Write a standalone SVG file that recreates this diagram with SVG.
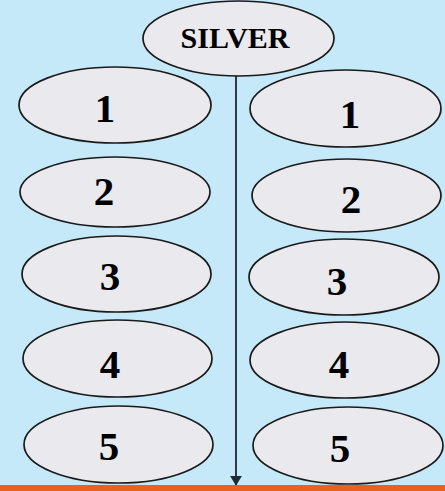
<svg xmlns="http://www.w3.org/2000/svg" width="445" height="491" viewBox="0 0 445 491">
<style>
.n{fill:#E9E9EE;stroke:#1A1A1A;stroke-width:1.7}
.t{font-family:"Liberation Serif","Times New Roman",serif;font-weight:bold;fill:#000;text-anchor:middle}
.d{font-size:41px}
.c{stroke:#2E3A4A;stroke-width:2;fill:none}
</style>
<defs>
<marker id="ah" markerWidth="5" markerHeight="6" refX="4.6" refY="3" orient="auto" markerUnits="strokeWidth">
<path d="M0,0 L5,3 L0,6 Z" fill="#1E2A38"/>
</marker>
</defs>
<rect x="0" y="0" width="445" height="491" fill="#C6E9F9"/>
<rect x="0" y="485" width="445" height="6" fill="#E8621E"/>
<g id="connectors">
<line class="c" x1="236" y1="76" x2="236" y2="485" marker-end="url(#ah)"/>
</g>
<g id="silver"><ellipse class="n" cx="238.5" cy="38.5" rx="95.5" ry="37.5"/><text class="t" x="235" y="48" font-size="30">SILVER</text></g>
<g id="l1"><ellipse class="n" cx="115" cy="105" rx="96" ry="38"/><text class="t d" x="105" y="122">1</text></g>
<g id="r1"><ellipse class="n" cx="345.5" cy="108.5" rx="95.5" ry="38.5"/><text class="t d" x="350" y="128">1</text></g>
<g id="l2"><ellipse class="n" cx="115" cy="192" rx="95" ry="35"/><text class="t d" x="104" y="205">2</text></g>
<g id="r2"><ellipse class="n" cx="346.5" cy="195.5" rx="94.5" ry="36.5"/><text class="t d" x="351" y="213">2</text></g>
<g id="l3"><ellipse class="n" cx="116.5" cy="274" rx="94.5" ry="38"/><text class="t d" x="110" y="290">3</text></g>
<g id="r3"><ellipse class="n" cx="344" cy="277" rx="95" ry="38"/><text class="t d" x="337" y="295">3</text></g>
<g id="l4"><ellipse class="n" cx="117.5" cy="358.5" rx="94.5" ry="38.5"/><text class="t d" x="110" y="378">4</text></g>
<g id="r4"><ellipse class="n" cx="344.5" cy="360" rx="94.5" ry="38"/><text class="t d" x="339" y="378">4</text></g>
<g id="l5"><ellipse class="n" cx="118.5" cy="444.5" rx="94.5" ry="38.5"/><text class="t d" x="109" y="460">5</text></g>
<g id="r5"><ellipse class="n" cx="348" cy="445.5" rx="95" ry="38.5"/><text class="t d" x="340" y="462">5</text></g>
</svg>
